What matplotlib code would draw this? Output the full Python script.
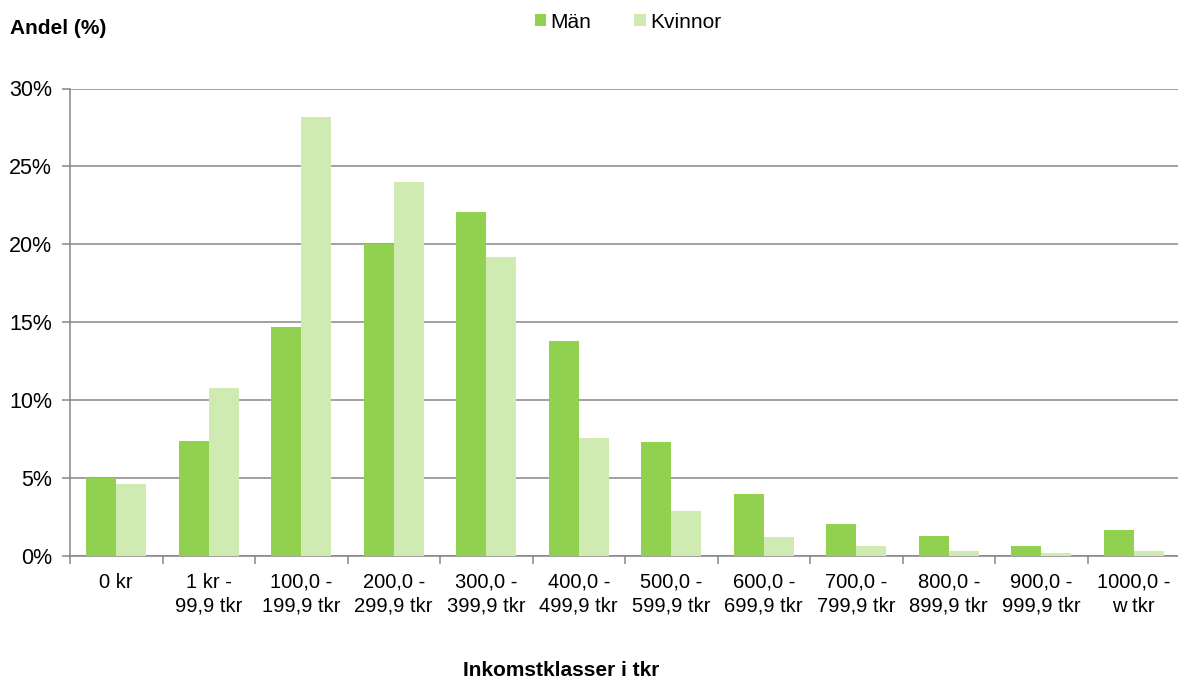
import matplotlib
matplotlib.use("Agg")
import matplotlib.pyplot as plt
import numpy as np
from matplotlib.ticker import FixedLocator, FuncFormatter

plt.rcParams["font.family"] = ["Liberation Sans", "DejaVu Sans"]

categories = [
    "0 kr",
    "1 kr -\n99,9 tkr",
    "100,0 -\n199,9 tkr",
    "200,0 -\n299,9 tkr",
    "300,0 -\n399,9 tkr",
    "400,0 -\n499,9 tkr",
    "500,0 -\n599,9 tkr",
    "600,0 -\n699,9 tkr",
    "700,0 -\n799,9 tkr",
    "800,0 -\n899,9 tkr",
    "900,0 -\n999,9 tkr",
    "1000,0 -\nw tkr",
]
man = [5.0, 7.4, 14.7, 20.0, 22.1, 13.8, 7.3, 4.0, 2.05, 1.3, 0.65, 1.7]
kvinnor = [4.6, 10.8, 28.2, 24.0, 19.2, 7.55, 2.9, 1.2, 0.65, 0.35, 0.2, 0.35]

GREEN = "#92d050"
LIGHT = "#d0ebb2"
AXIS = "#868686"

fig = plt.figure(figsize=(11.78, 6.8), dpi=100)
ax = fig.add_axes([70 / 1178, 124 / 680, 1110 / 1178, 467.5 / 680])

x = np.arange(len(categories))
w = 0.325
ax.bar(x - w / 2, man, width=w, color=GREEN, label="Män", zorder=3)
ax.bar(x + w / 2, kvinnor, width=w, color=LIGHT, label="Kvinnor", zorder=3)

ax.set_xlim(-0.5, len(categories) - 0.5)
ax.set_ylim(0, 30)
ax.set_yticks(np.arange(0, 31, 5))
ax.yaxis.set_major_formatter(FuncFormatter(lambda v, _: f"{v:.0f}%"))
ax.yaxis.grid(True, color=AXIS, linewidth=1.1, zorder=0)

ax.set_xticks(x)
ax.set_xticklabels(categories, fontsize=14.5, linespacing=1.35)
ax.xaxis.set_minor_locator(FixedLocator(np.arange(-0.5, len(categories), 1)))
ax.tick_params(axis="x", which="major", length=0, pad=12)
ax.tick_params(axis="x", which="minor", length=6, width=1.1, color=AXIS)
ax.tick_params(axis="y", length=6, width=1.1, color=AXIS, labelsize=15.5, pad=7)

for side in ("top", "right"):
    ax.spines[side].set_visible(False)
for side in ("left", "bottom"):
    ax.spines[side].set_color(AXIS)
    ax.spines[side].set_linewidth(1.1)

fig.text(10 / 1178, 1 - 28 / 680, "Andel (%)", fontsize=15, fontweight="bold",
         va="center", ha="left")
fig.text(561 / 1178, 1 - 670 / 680, "Inkomstklasser i tkr", fontsize=15,
         fontweight="bold", va="center", ha="center")

fig.legend(loc="center", bbox_to_anchor=(628 / 1178, 1 - 22 / 680), ncol=2,
           frameon=False, fontsize=15, handlelength=0.55, handleheight=0.55,
           handletextpad=0.2, columnspacing=2.07, borderpad=0)

fig.savefig("out.png", dpi=100)
